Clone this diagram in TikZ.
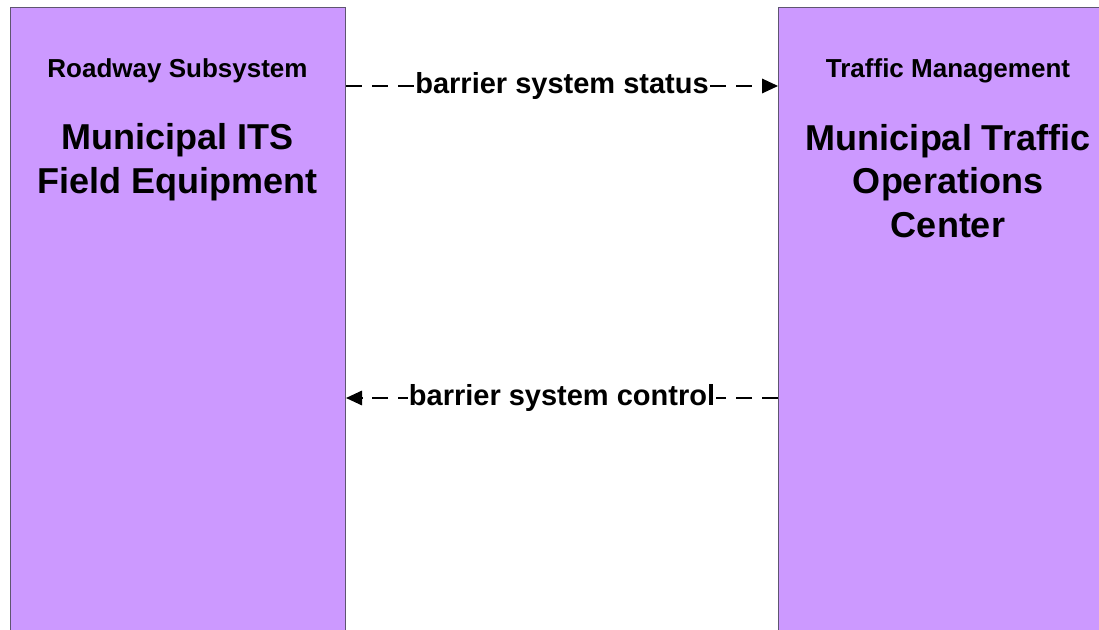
\documentclass[tikz,border=0pt]{standalone}
\usepackage{fontspec}
\setmainfont{Liberation Sans}
\usepackage{xcolor}
\usetikzlibrary{arrows.meta,positioning,calc}
\definecolor{subsysfill}{HTML}{CC99FF}
\definecolor{subsysline}{HTML}{5F5570}

\begin{document}
\begin{tikzpicture}[
  x=0.75pt, y=-0.75pt, >={Triangle[length=12pt,width=11pt]},
  subsys/.style={draw=subsysline, line width=0.8pt, fill=subsysfill, anchor=north west, minimum width=251.25pt, minimum height=525pt, inner sep=0pt},
  clsname/.style={font=\bfseries\fontsize{19.5}{23}\selectfont, align=center, inner sep=0pt},
  sysname/.style={font=\bfseries\fontsize{27}{32.7}\selectfont, align=center, inner sep=0pt},
  flow/.style={line width=0.9pt, dash pattern=on 12pt off 7.5pt},
  lbl/.style={font=\bfseries\fontsize{21.75}{26}\selectfont, fill=white, inner xsep=1pt, inner ysep=2pt},
]
\useasboundingbox (0,0) rectangle (1099,630);
\clip (0,0) rectangle (1099,630);

\node[subsys] (field) at (10,7) {};
\node[subsys, minimum width=255pt] (tmc) at (778,7) {};

\node[clsname] (fieldcls) at (177.5,71) {Roadway Subsystem};
\node[sysname] (fieldname) at (177.5,162) {Municipal ITS\\Field Equipment};
\node[clsname] (tmccls) at (948,71) {Traffic Management};
\node[sysname] (tmcname) at (948,181) {Municipal Traffic\\Operations\\Center};

\draw[flow, ->] ([yshift=-59.25pt]field.north east) -- node[lbl] {barrier system status} ([yshift=-59.25pt]tmc.north west);
\draw[flow, ->] ([yshift=-293.25pt]tmc.north west) -- node[lbl] {barrier system control} ([yshift=-293.25pt]field.north east);
\end{tikzpicture}
\end{document}
